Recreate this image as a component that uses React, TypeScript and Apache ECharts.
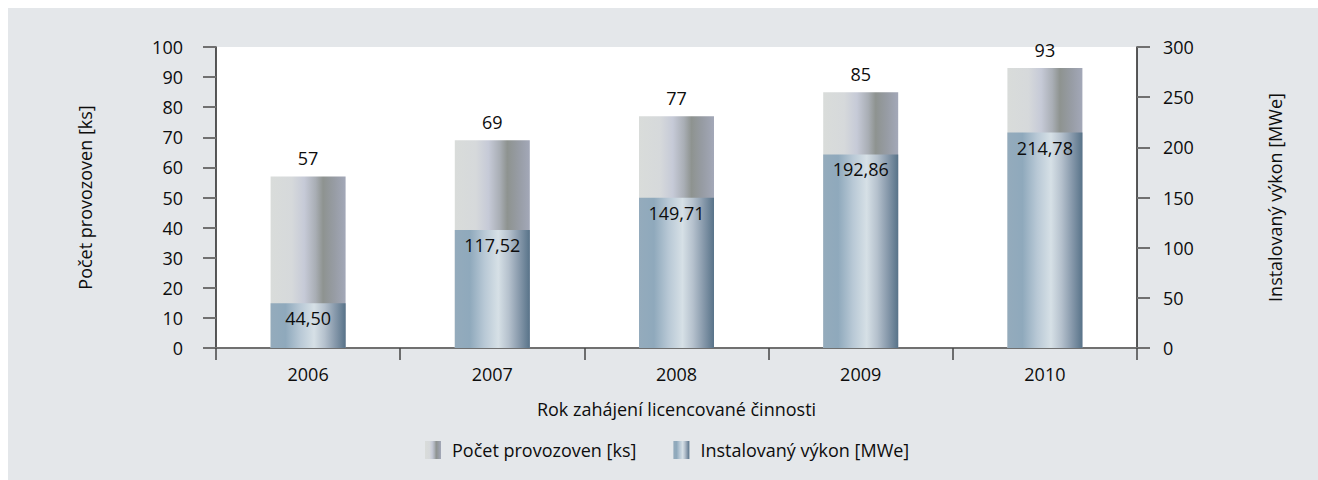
import React, { useEffect, useRef } from "react";
import * as echarts from "echarts";

const years = ["2006", "2007", "2008", "2009", "2010"];
const pocetProvozoven = [57, 69, 77, 85, 93];
const instalovanyVykon = [44.5, 117.52, 149.71, 192.86, 214.78];
const leftTicks = { min: 0, max: 100, interval: 10 };
const rightTicks = { min: 0, max: 300, interval: 50 };

const FONT = "Open Sans";
const TXT = "#0d0d0d";

const grayGrad = new echarts.graphic.LinearGradient(0, 0, 1, 0, [
  { offset: 0, color: "#d9dcda" },
  { offset: 0.28, color: "#d6d9db" },
  { offset: 0.45, color: "#c6cad7" },
  { offset: 0.6, color: "#a9aeb5" },
  { offset: 0.7, color: "#8e9390" },
  { offset: 0.85, color: "#979ca4" },
  { offset: 1, color: "#a3a8b8" },
]);

const blueGrad = new echarts.graphic.LinearGradient(0, 0, 1, 0, [
  { offset: 0, color: "#94abbc" },
  { offset: 0.2, color: "#8fa9bc" },
  { offset: 0.4, color: "#b9c9d6" },
  { offset: 0.58, color: "#d6e0e6" },
  { offset: 0.72, color: "#b5c1cd" },
  { offset: 0.86, color: "#8799ab" },
  { offset: 1, color: "#587389" },
]);

const fmt = (v: number) => v.toFixed(2).replace(".", ",");

export default function App() {
  const ref = useRef<HTMLDivElement>(null);
  useEffect(() => {
    if (!ref.current) return;
    const chart = echarts.init(ref.current, undefined, { renderer: "svg" });
    chart.setOption({
      animation: false,
      backgroundColor: "#e4e7ea",
      textStyle: { fontFamily: FONT, color: TXT },
      grid: { left: 208, right: 181, top: 39, bottom: 132, show: true, backgroundColor: "#ffffff", borderWidth: 0 },
      legend: {
        bottom: 16,
        left: 412,
        icon: "rect",
        itemWidth: 16,
        itemHeight: 18,
        itemGap: 37,
        textStyle: { fontFamily: FONT, fontSize: 18, color: TXT, padding: [0, 0, 0, 6] },
        data: ["Počet provozoven [ks]", "Instalovaný výkon [MWe]"],
      },
      xAxis: [
        {
          type: "category",
          data: years,
          position: "bottom",
          name: "Rok zahájení licencované činnosti",
          nameLocation: "middle",
          nameGap: 52,
          nameTextStyle: { fontFamily: FONT, fontSize: 18, color: TXT },
          axisLine: { lineStyle: { color: "#707070", width: 2 } },
          axisTick: { show: true, length: 12, lineStyle: { color: "#444", width: 1.5 } },
          axisLabel: { fontFamily: FONT, fontSize: 18, color: TXT, margin: 17 },
        },
        {
          type: "category",
          data: years,
          position: "top",
          axisLine: { lineStyle: { color: "#707070", width: 2 } },
          axisTick: { show: false },
          axisLabel: { show: false },
        },
      ],
      yAxis: [
        {
          type: "value",
          position: "left",
          ...leftTicks,
          name: "Počet provozoven [ks]",
          nameLocation: "middle",
          nameRotate: 90,
          nameGap: 122,
          nameTextStyle: { fontFamily: FONT, fontSize: 18, color: TXT },
          axisLine: { show: true, lineStyle: { color: "#222", width: 1.5 } },
          axisTick: { show: true, length: 13, lineStyle: { color: "#707070", width: 2 } },
          axisLabel: { fontFamily: FONT, fontSize: 18, color: TXT, margin: 33 },
          splitLine: { show: false },
        },
        {
          type: "value",
          position: "right",
          ...rightTicks,
          name: "Instalovaný výkon [MWe]",
          nameLocation: "middle",
          nameRotate: 90,
          nameGap: 129,
          nameTextStyle: { fontFamily: FONT, fontSize: 18, color: TXT },
          axisLine: { show: true, lineStyle: { color: "#222", width: 1.5 } },
          axisTick: { show: true, length: 13, lineStyle: { color: "#707070", width: 2 } },
          axisLabel: { fontFamily: FONT, fontSize: 18, color: TXT, margin: 26 },
          splitLine: { show: false },
        },
      ],
      series: [
        {
          name: "Počet provozoven [ks]",
          type: "bar",
          yAxisIndex: 0,
          barWidth: 75,
          barGap: "-100%",
          data: pocetProvozoven,
          itemStyle: { color: grayGrad },
          label: { show: true, position: "top", distance: 9, fontFamily: FONT, fontSize: 18, color: TXT },
        },
        {
          name: "Instalovaný výkon [MWe]",
          type: "bar",
          yAxisIndex: 1,
          barWidth: 75,
          barGap: "-100%",
          data: instalovanyVykon,
          itemStyle: { color: blueGrad },
          label: {
            show: true,
            position: "insideTop",
            distance: 6,
            fontFamily: FONT,
            fontSize: 18,
            color: TXT,
            formatter: (p: any) => fmt(p.value),
          },
        },
      ],
    });
    return () => chart.dispose();
  }, []);
  return (
    <div
      ref={ref}
      style={{ position: "fixed", left: 8, top: 8, width: 1310, height: 472 }}
    />
  );
}
